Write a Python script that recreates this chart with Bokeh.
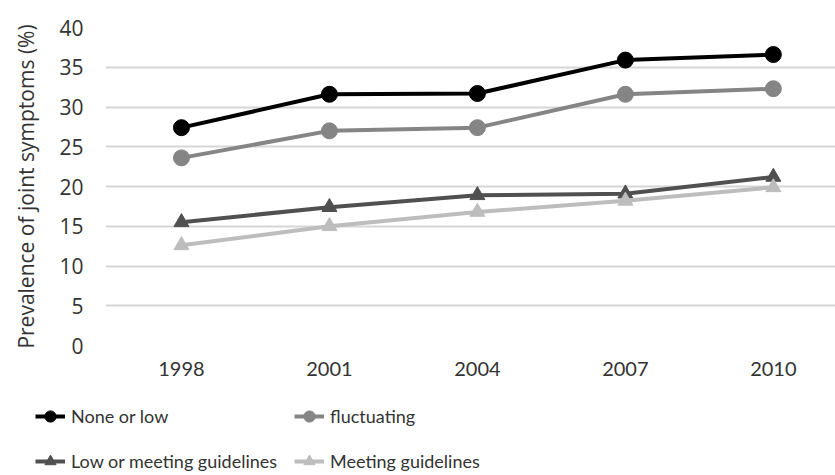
from bokeh.plotting import figure
from bokeh.models import Range1d, FixedTicker, Legend, LegendItem
from bokeh.layouts import column
from bokeh.embed import file_html
from bokeh.resources import INLINE

years = [1998, 2001, 2004, 2007, 2010]
none_or_low = [27.4, 31.6, 31.7, 35.9, 36.6]
fluctuating = [23.6, 27.0, 27.4, 31.6, 32.3]
low_or_meeting = [15.5, 17.4, 18.9, 19.1, 21.2]
meeting = [12.6, 15.0, 16.8, 18.2, 19.9]
y_ticks = [0, 5, 10, 15, 20, 25, 30, 35, 40]
series_names = ["None or low", "fluctuating", "Low or meeting guidelines", "Meeting guidelines"]

colors = ["#000000", "#858585", "#505050", "#bdbdbd"]
markers = ["circle", "circle", "triangle", "triangle"]
sizes = [16, 16, 15, 15]
data = [none_or_low, fluctuating, low_or_meeting, meeting]

p = figure(width=835, height=390, output_backend="svg", toolbar_location=None,
           x_range=Range1d(1996.46, 2011.26), y_range=Range1d(0, 40),
           min_border_left=105, min_border_right=0, min_border_top=27, min_border_bottom=45)
p.outline_line_color = None
p.background_fill_color = "white"
p.border_fill_color = "white"

p.xaxis.ticker = FixedTicker(ticks=years)
p.yaxis.ticker = FixedTicker(ticks=y_ticks)
for ax in (p.xaxis[0], p.yaxis[0]):
    ax.axis_line_color = None
    ax.major_tick_line_color = None
    ax.minor_tick_line_color = None
p.xaxis.major_label_text_font = "Lato"
p.xaxis.major_label_text_font_size = "20px"
p.xaxis.major_label_text_color = "#333333"
p.xaxis.major_label_standoff = 10
p.yaxis.major_label_text_font = "Open Sans"
p.yaxis.major_label_text_font_size = "21px"
p.yaxis.major_label_text_color = "#333333"
p.yaxis.major_label_standoff = 16
p.yaxis.axis_label = "Prevalence of joint symptoms (%)"
p.yaxis.axis_label_text_font = "Open Sans"
p.yaxis.axis_label_text_font_style = "normal"
p.yaxis.axis_label_text_font_size = "21px"
p.yaxis.axis_label_text_color = "#333333"
p.yaxis.axis_label_standoff = 16
p.xgrid.grid_line_color = None
p.ygrid.grid_line_color = "#d6d6d6"
p.ygrid.grid_line_width = 2

for name, vals, c, m, s in zip(series_names, data, colors, markers, sizes):
    p.line(years, vals, line_color=c, line_width=4)
    p.scatter(years, vals, marker=m, size=s, fill_color=c, line_color=c)

# legend panel: same series drawn out of view, only their legend entries show
lp = figure(width=835, height=85, output_backend="svg", toolbar_location=None,
            x_range=Range1d(0, 1), y_range=Range1d(0, 1),
            x_axis_type=None, y_axis_type=None,
            min_border=0, min_border_left=0, min_border_right=0,
            min_border_top=0, min_border_bottom=0)
if "frame_align" in lp.properties():
    lp.frame_align = False
lp.outline_line_color = None
lp.xgrid.grid_line_color = None
lp.ygrid.grid_line_color = None

items = {}
for name, vals, c, m, s in zip(series_names, data, colors, markers, sizes):
    l = lp.line(years, vals, line_color=c, line_width=4)
    sc = lp.scatter(years, vals, marker=m, size=s, fill_color=c, line_color=c)
    items[name] = LegendItem(label=name, renderers=[l, sc])

# legend fills column by column: first column holds series 1 and 3
order = [series_names[0], series_names[2], series_names[1], series_names[3]]
legend = Legend(items=[items[n] for n in order], ncols=2,
                label_text_font="Lato", label_text_font_size="18px",
                label_text_color="#333333", glyph_width=30, glyph_height=28,
                label_height=28, label_width=190,
                label_standoff=6, spacing=17,
                border_line_color=None, background_fill_alpha=0,
                padding=0, margin=0, location=(35, 0))
lp.add_layout(legend, "center")

layout = column(p, lp, spacing=0)
html = file_html(layout, INLINE)
open("out.html", "w").write(html)
